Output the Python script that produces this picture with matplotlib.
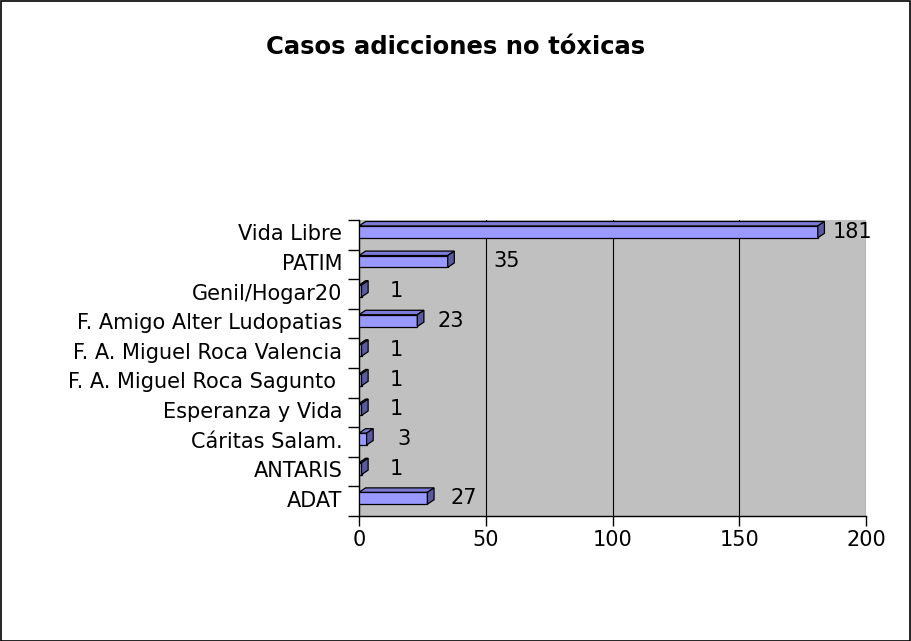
import matplotlib.pyplot as plt
import numpy as np
from matplotlib.patches import Polygon, Rectangle

# data, listed top to bottom as in the chart
categorias = ["Vida Libre", "PATIM", "Genil/Hogar20", "F. Amigo Alter Ludopatias",
              "F. A. Miguel Roca Valencia", "F. A. Miguel Roca Sagunto ",
              "Esperanza y Vida", "Cáritas Salam.", "ANTARIS", "ADAT"]
casos = [181, 35, 1, 23, 1, 1, 1, 3, 1, 27]
titulo = "Casos adicciones no tóxicas"

# label gap after each bar (excel places them a bit irregularly)
label_gap = [6, 18, 11, 8, 11, 11, 11, 12, 11, 9]

W, H = 911, 641
fig = plt.figure(figsize=(W / 100, H / 100), dpi=100)
fig.patch.set_facecolor("white")
fig.patches.append(Rectangle((0.5 / W, 0.5 / H), 1 - 1.5 / W, 1 - 1.5 / H,
                             transform=fig.transFigure, fill=False,
                             edgecolor="black", lw=1.2))

# plot area in pixels
x0, x1, ytop, ybot = 359, 866, 220, 516
ax = fig.add_axes([x0 / W, 1 - ybot / H, (x1 - x0) / W, (ybot - ytop) / H])
ax.set_facecolor("#c0c0c0")

n = len(categorias)
pos = np.arange(n)[::-1]          # first category at top
h = 0.40                          # front face height
dx, dy = 2.6, 0.15                # 3d depth
yoff = 0.1

front = "#9999ff"
topc = "#7c7cd8"
side = "#5a5aa0"

ax.barh(pos + yoff, casos, height=h, color=front, edgecolor="black",
        linewidth=0.9, zorder=3)
for p, v in zip(pos, casos):
    yb = p + yoff - h / 2
    yt = p + yoff + h / 2
    ax.add_patch(Polygon([(0, yt), (v, yt), (v + dx, yt + dy), (dx, yt + dy)],
                         closed=True, facecolor=topc, edgecolor="black",
                         lw=0.9, zorder=3))
    ax.add_patch(Polygon([(v, yb), (v + dx, yb + dy), (v + dx, yt + dy), (v, yt)],
                         closed=True, facecolor=side, edgecolor="black",
                         lw=0.9, zorder=3))

for p, v, g in zip(pos, casos, label_gap):
    ax.text(v + g, p + yoff, str(v), ha="left", va="center",
            fontsize=15, family="DejaVu Sans", zorder=4)

ax.set_xlim(0, 200)
ax.set_ylim(-0.5, n - 0.5)
ax.set_xticks([0, 50, 100, 150, 200])
ax.tick_params(axis="x", direction="out", length=7, width=1, pad=3,
               labelsize=15)
ax.set_yticks(pos + 0.08)
ax.set_yticklabels(categorias)
ax.tick_params(axis="y", which="major", length=0, pad=12, labelsize=15)
ax.set_yticks(np.arange(-0.5, n, 1.0), minor=True)
ax.tick_params(axis="y", which="minor", direction="out", length=8, width=1)
ax.grid(axis="x", color="black", linewidth=0.8, zorder=1)
ax.set_axisbelow(True)
for s in ["top", "right"]:
    ax.spines[s].set_visible(False)
for s in ["left", "bottom"]:
    ax.spines[s].set_linewidth(1)
for lab in ax.get_xticklabels() + ax.get_yticklabels():
    lab.set_family("DejaVu Sans")

fig.text(455.5 / W, 1 - 47 / H, titulo, ha="center", va="center",
         fontsize=17.5, fontweight="bold", family="DejaVu Sans")

fig.savefig("out.png", dpi=100)
